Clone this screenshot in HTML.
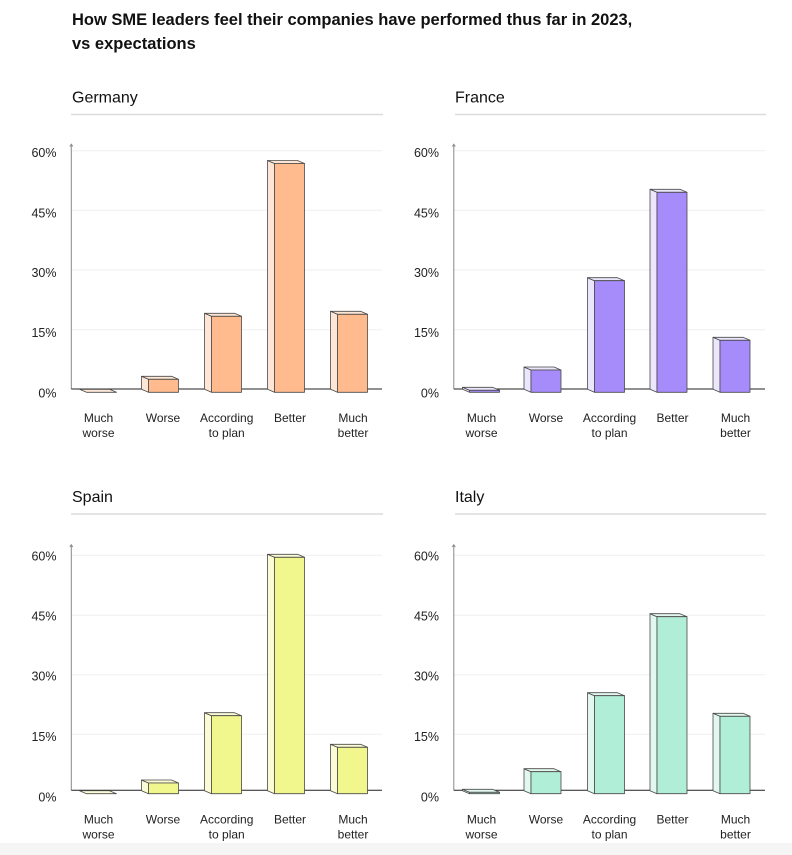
<!DOCTYPE html>
<html><head><meta charset="utf-8">
<style>
html,body{margin:0;padding:0;background:#fff;}
svg{display:block;font-family:"Liberation Sans",Arial,sans-serif;}
</style></head>
<body>
<svg width="792" height="855" viewBox="0 0 792 855" xmlns="http://www.w3.org/2000/svg">
<rect x="0" y="0" width="792" height="855" fill="#fff"/>
<rect x="0" y="843" width="792" height="12" fill="#f5f5f5"/>

<!-- Title -->
<text x="72" y="25" font-size="16.5" font-weight="bold" fill="#111">How SME leaders feel their companies have performed thus far in 2023,</text>
<text x="72" y="49" font-size="16.5" font-weight="bold" fill="#111">vs expectations</text>

<!-- Panel titles -->
<g font-size="16" fill="#111">
<text x="72" y="102.5">Germany</text>
<text x="455" y="102.5">France</text>
<text x="72" y="502">Spain</text>
<text x="455" y="502">Italy</text>
</g>
<g stroke="#dcdcdc" stroke-width="1.5">
<line x1="71" y1="114.5" x2="383" y2="114.5"/>
<line x1="455" y1="114.5" x2="766" y2="114.5"/>
<line x1="71" y1="514" x2="383" y2="514"/>
<line x1="455" y1="514" x2="766" y2="514"/>
</g>

<!-- Gridlines -->
<g stroke="#efefef" stroke-width="1">
<line x1="71.3" y1="150.7" x2="382" y2="150.7"/>
<line x1="71.3" y1="210.3" x2="382" y2="210.3"/>
<line x1="71.3" y1="270" x2="382" y2="270"/>
<line x1="71.3" y1="329.7" x2="382" y2="329.7"/>
<line x1="453.8" y1="150.7" x2="765" y2="150.7"/>
<line x1="453.8" y1="210.3" x2="765" y2="210.3"/>
<line x1="453.8" y1="270" x2="765" y2="270"/>
<line x1="453.8" y1="329.7" x2="765" y2="329.7"/>
<line x1="71.3" y1="555.3" x2="382" y2="555.3"/>
<line x1="71.3" y1="615.3" x2="382" y2="615.3"/>
<line x1="71.3" y1="674.7" x2="382" y2="674.7"/>
<line x1="71.3" y1="734.3" x2="382" y2="734.3"/>
<line x1="453.8" y1="555.3" x2="765" y2="555.3"/>
<line x1="453.8" y1="615.3" x2="765" y2="615.3"/>
<line x1="453.8" y1="674.7" x2="765" y2="674.7"/>
<line x1="453.8" y1="734.3" x2="765" y2="734.3"/>
</g>

<!-- Y axes -->
<g stroke="#888" stroke-width="1" fill="none">
<line x1="71.3" y1="144.5" x2="71.3" y2="389"/>
<polyline points="69.8,146.5 71.3,144.3 72.8,146.5"/>
<line x1="453.8" y1="144.5" x2="453.8" y2="389"/>
<polyline points="452.3,146.5 453.8,144.3 455.3,146.5"/>
<line x1="71.3" y1="545" x2="71.3" y2="790.3"/>
<polyline points="69.8,547 71.3,544.8 72.8,547"/>
<line x1="453.8" y1="545" x2="453.8" y2="790.3"/>
<polyline points="452.3,547 453.8,544.8 455.3,547"/>
</g>
<!-- Baselines -->
<g stroke="#222" stroke-width="1">
<line x1="71.3" y1="389" x2="382" y2="389"/>
<line x1="453.8" y1="389" x2="765" y2="389"/>
<line x1="71.3" y1="790.3" x2="382" y2="790.3"/>
<line x1="453.8" y1="790.3" x2="765" y2="790.3"/>
</g>

<!-- Y tick labels -->
<g font-size="12.5" fill="#222" text-anchor="end">
<text x="56.5" y="157">60%</text>
<text x="56.5" y="217.3">45%</text>
<text x="56.5" y="277">30%</text>
<text x="56.5" y="337">15%</text>
<text x="56.5" y="397.6">0%</text>
<text x="439" y="157">60%</text>
<text x="439" y="217.3">45%</text>
<text x="439" y="277">30%</text>
<text x="439" y="337">15%</text>
<text x="439" y="397.6">0%</text>
<text x="56.5" y="560.3">60%</text>
<text x="56.5" y="620.3">45%</text>
<text x="56.5" y="680.3">30%</text>
<text x="56.5" y="741">15%</text>
<text x="56.5" y="801.6">0%</text>
<text x="439" y="560.3">60%</text>
<text x="439" y="620.3">45%</text>
<text x="439" y="680.3">30%</text>
<text x="439" y="741">15%</text>
<text x="439" y="801.6">0%</text>
</g>

<!-- Category labels -->
<g font-size="12" fill="#222" text-anchor="middle">
<text x="98.5" y="422">Much</text><text x="98.5" y="437">worse</text>
<text x="163" y="422">Worse</text>
<text x="226.7" y="422">According</text><text x="226.7" y="437">to plan</text>
<text x="290" y="422">Better</text>
<text x="353" y="422">Much</text><text x="353" y="437">better</text>

<text x="481.5" y="422">Much</text><text x="481.5" y="437">worse</text>
<text x="546" y="422">Worse</text>
<text x="609.5" y="422">According</text><text x="609.5" y="437">to plan</text>
<text x="672.5" y="422">Better</text>
<text x="735.5" y="422">Much</text><text x="735.5" y="437">better</text>

<text x="98.5" y="823.5">Much</text><text x="98.5" y="838.5">worse</text>
<text x="163" y="823.5">Worse</text>
<text x="226.7" y="823.5">According</text><text x="226.7" y="838.5">to plan</text>
<text x="290" y="823.5">Better</text>
<text x="353" y="823.5">Much</text><text x="353" y="838.5">better</text>

<text x="481.5" y="823.5">Much</text><text x="481.5" y="838.5">worse</text>
<text x="546" y="823.5">Worse</text>
<text x="609.5" y="823.5">According</text><text x="609.5" y="838.5">to plan</text>
<text x="672.5" y="823.5">Better</text>
<text x="735.5" y="823.5">Much</text><text x="735.5" y="838.5">better</text>
</g>

<!-- Germany bars -->
<g stroke="#4a4a4a" stroke-width="0.8" stroke-linejoin="round">
<polygon points="79.5,389.3 109.5,389.3 116.5,392.3 86.5,392.3" fill="#fde6d6"/>

<polygon points="141.5,376.3 148.5,379.3 148.5,392.3 141.5,389.3" fill="#fde6d6"/>
<polygon points="141.5,376.3 171.5,376.3 178.5,379.3 148.5,379.3" fill="#fde6d6"/>
<rect x="148.5" y="379.3" width="30" height="13" fill="#ffbb8d"/>

<polygon points="204.5,313.3 211.5,316.3 211.5,392.3 204.5,389.3" fill="#fde6d6"/>
<polygon points="204.5,313.3 234.5,313.3 241.5,316.3 211.5,316.3" fill="#fde6d6"/>
<rect x="211.5" y="316.3" width="30" height="76" fill="#ffbb8d"/>

<polygon points="267.5,160.5 274.5,163.5 274.5,392.3 267.5,389.3" fill="#fde6d6"/>
<polygon points="267.5,160.5 297.5,160.5 304.5,163.5 274.5,163.5" fill="#fde6d6"/>
<rect x="274.5" y="163.5" width="30" height="228.8" fill="#ffbb8d"/>

<polygon points="330.5,311.3 337.5,314.3 337.5,392.3 330.5,389.3" fill="#fde6d6"/>
<polygon points="330.5,311.3 360.5,311.3 367.5,314.3 337.5,314.3" fill="#fde6d6"/>
<rect x="337.5" y="314.3" width="30" height="78" fill="#ffbb8d"/>
</g>

<!-- France bars -->
<g stroke="#4a4a4a" stroke-width="0.8" stroke-linejoin="round">
<polygon points="462.5,387.3 469.5,390.3 469.5,392.3 462.5,389.3" fill="#ebe6fb"/>
<polygon points="462.5,387.3 492.5,387.3 499.5,390.3 469.5,390.3" fill="#ebe6fb"/>
<rect x="469.5" y="390.3" width="30" height="2" fill="#a68bfa"/>

<polygon points="524,367 531,370 531,392.3 524,389.3" fill="#ebe6fb"/>
<polygon points="524,367 554,367 561,370 531,370" fill="#ebe6fb"/>
<rect x="531" y="370" width="30" height="22.3" fill="#a68bfa"/>

<polygon points="587.5,277.7 594.5,280.7 594.5,392.3 587.5,389.3" fill="#ebe6fb"/>
<polygon points="587.5,277.7 617.5,277.7 624.5,280.7 594.5,280.7" fill="#ebe6fb"/>
<rect x="594.5" y="280.7" width="30" height="111.6" fill="#a68bfa"/>

<polygon points="650,189.3 657,192.3 657,392.3 650,389.3" fill="#ebe6fb"/>
<polygon points="650,189.3 680,189.3 687,192.3 657,192.3" fill="#ebe6fb"/>
<rect x="657" y="192.3" width="30" height="200" fill="#a68bfa"/>

<polygon points="713,337.3 720,340.3 720,392.3 713,389.3" fill="#ebe6fb"/>
<polygon points="713,337.3 743,337.3 750,340.3 720,340.3" fill="#ebe6fb"/>
<rect x="720" y="340.3" width="30" height="52" fill="#a68bfa"/>
</g>

<!-- Spain bars -->
<g stroke="#4a4a4a" stroke-width="0.8" stroke-linejoin="round">
<polygon points="79.5,790.7 109.5,790.7 116.5,793.7 86.5,793.7" fill="#fbfcd5"/>

<polygon points="141.5,780 148.5,783 148.5,793.7 141.5,790.7" fill="#fbfcd5"/>
<polygon points="141.5,780 171.5,780 178.5,783 148.5,783" fill="#fbfcd5"/>
<rect x="148.5" y="783" width="30" height="10.7" fill="#f1f68d"/>

<polygon points="204.5,712.7 211.5,715.7 211.5,793.7 204.5,790.7" fill="#fbfcd5"/>
<polygon points="204.5,712.7 234.5,712.7 241.5,715.7 211.5,715.7" fill="#fbfcd5"/>
<rect x="211.5" y="715.7" width="30" height="78" fill="#f1f68d"/>

<polygon points="267.5,554.3 274.5,557.3 274.5,793.7 267.5,790.7" fill="#fbfcd5"/>
<polygon points="267.5,554.3 297.5,554.3 304.5,557.3 274.5,557.3" fill="#fbfcd5"/>
<rect x="274.5" y="557.3" width="30" height="236.4" fill="#f1f68d"/>

<polygon points="330.5,744.3 337.5,747.3 337.5,793.7 330.5,790.7" fill="#fbfcd5"/>
<polygon points="330.5,744.3 360.5,744.3 367.5,747.3 337.5,747.3" fill="#fbfcd5"/>
<rect x="337.5" y="747.3" width="30" height="46.4" fill="#f1f68d"/>
</g>

<!-- Italy bars -->
<g stroke="#4a4a4a" stroke-width="0.8" stroke-linejoin="round">
<polygon points="462.5,789.3 469.5,792.3 469.5,793.7 462.5,790.7" fill="#e2f8ef"/>
<polygon points="462.5,789.3 492.5,789.3 499.5,792.3 469.5,792.3" fill="#e2f8ef"/>
<rect x="469.5" y="792.3" width="30" height="1.4" fill="#b0eed8"/>

<polygon points="524,768.7 531,771.7 531,793.7 524,790.7" fill="#e2f8ef"/>
<polygon points="524,768.7 554,768.7 561,771.7 531,771.7" fill="#e2f8ef"/>
<rect x="531" y="771.7" width="30" height="22" fill="#b0eed8"/>

<polygon points="587.5,692.7 594.5,695.7 594.5,793.7 587.5,790.7" fill="#e2f8ef"/>
<polygon points="587.5,692.7 617.5,692.7 624.5,695.7 594.5,695.7" fill="#e2f8ef"/>
<rect x="594.5" y="695.7" width="30" height="98" fill="#b0eed8"/>

<polygon points="650,613.7 657,616.7 657,793.7 650,790.7" fill="#e2f8ef"/>
<polygon points="650,613.7 680,613.7 687,616.7 657,616.7" fill="#e2f8ef"/>
<rect x="657" y="616.7" width="30" height="177" fill="#b0eed8"/>

<polygon points="713,713.3 720,716.3 720,793.7 713,790.7" fill="#e2f8ef"/>
<polygon points="713,713.3 743,713.3 750,716.3 720,716.3" fill="#e2f8ef"/>
<rect x="720" y="716.3" width="30" height="77.4" fill="#b0eed8"/>
</g>
</svg>
</body></html>
